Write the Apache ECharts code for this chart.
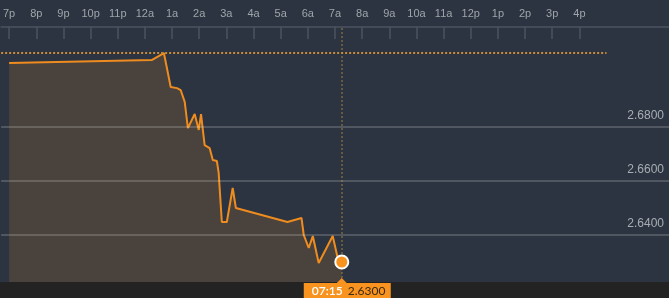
<!DOCTYPE html>
<html>
<head>
<meta charset="utf-8">
<script src="https://cdn.jsdelivr.net/npm/echarts@6/dist/echarts.min.js"></script>
<style>
html,body{margin:0;padding:0;background:#2b3440;}
#c{width:669px;height:298px;}
</style>
</head>
<body>
<div id="c"></div>
<script>
// ---- data ----
var hourLabels = ['7p','8p','9p','10p','11p','12a','1a','2a','3a','4a','5a','6a','7a','8a','9a','10a','11a','12p','1p','2p','3p','4p'];
var times = ['19:00','00:15','00:42','00:57','01:11','01:19','01:28','01:35','01:50','01:59','02:04','02:12','02:23','02:30','02:39','02:43','02:50','03:01','03:14','03:21','05:15','05:46','05:51','06:02','06:11','06:24','06:55','07:06','07:15'];
var prices = [2.7037,2.7048,2.7074,2.6948,2.6944,2.6937,2.6893,2.6796,2.6848,2.6789,2.6848,2.6733,2.6722,2.6678,2.6674,2.6630,2.6448,2.6448,2.6574,2.6500,2.6448,2.6463,2.6400,2.6352,2.6396,2.6296,2.6396,2.6315,2.6300];
var yTicks = [2.64, 2.66, 2.68];
var prevClose = 2.7074;
var prevCloseEnd = '17:00';
var lastTimeLabel = '07:15';
var lastPriceLabel = '2.6300';

// hours since 7p
function toHours(s){
  var p = s.split(':'); var h = +p[0] + (+p[1])/60;
  var d = h - 19; if (d < 0) d += 24; return d;
}
var xMin = -0.294, xMax = 24.30;
var yMin = 2.62259, yMax = 2.71704;

var seriesData = times.map(function(t,i){ return [toHours(t), prices[i]]; });
var lastPt = seriesData[seriesData.length-1];

var markLines = yTicks.map(function(v){
  return [{coord:[xMin, v], lineStyle:{color:'rgba(255,255,255,0.24)', width:1.5, type:'solid'}}, {coord:[xMax, v]}];
});
markLines.push([{coord:[xMin, prevClose], lineStyle:{color:'#c98b3b', width:2, type:[2,2]}}, {coord:[toHours(prevCloseEnd), prevClose]}]);
markLines.push({xAxis:lastPt[0], lineStyle:{color:'rgba(190,150,60,0.55)', width:1.5, type:[2,2]}});

var chart = echarts.init(document.getElementById('c'), null, {renderer:'canvas'});
chart.setOption({
  backgroundColor:'#2b3440',
  animation:false,
  grid:{left:0, right:0, top:27, bottom:16},
  xAxis:{
    type:'value', position:'top', min:xMin, max:xMax,
    axisLine:{show:true, lineStyle:{color:'#4b535d', width:1.5}},
    axisTick:{show:true, inside:true, length:12, lineStyle:{color:'#4b535d', width:1.5},
      customValues: hourLabels.map(function(_,i){return i;})},
    axisLabel:{show:true, color:'#a0a5ab', fontSize:11, fontFamily:'Liberation Sans, Arial, sans-serif', margin:8,
      customValues: hourLabels.map(function(_,i){return i;}),
      formatter:function(v){ var i = Math.round(v); return hourLabels[i] || ''; }},
    splitLine:{show:false}
  },
  yAxis:{
    type:'value', position:'right', min:yMin, max:yMax, scale:true,
    axisLine:{show:false}, axisTick:{show:false}, splitLine:{show:false},
    axisLabel:{show:true, inside:true, color:'#a8adb3', fontSize:12, fontFamily:'Liberation Sans, Arial, sans-serif',
      margin:5, verticalAlign:'bottom', padding:[0,0,5,0],
      customValues: yTicks,
      formatter:function(v){ return v.toFixed(4); }}
  },
  series:[{
    type:'line', data:seriesData, symbol:'none', smooth:false,
    lineStyle:{color:'#ef8c1f', width:2},
    areaStyle:{color:'#4a423c', opacity:1},
    markLine:{silent:true, symbol:'none', label:{show:false}, data:markLines},
    markPoint:{silent:true, label:{show:false}, data:[{coord:lastPt, symbol:'circle', symbolSize:13,
      itemStyle:{color:'#f7931e', borderColor:'#ffffff', borderWidth:2}}]}
  }]
});

var px = chart.convertToPixel({gridIndex:0}, lastPt);
var bx = px[0];
chart.setOption({graphic:[
  {type:'rect', id:'band', left:0, bottom:0, shape:{width:669, height:16}, style:{fill:'#232323'}, z:10},
  {type:'polygon', id:'tri', shape:{points:[[bx-5,283],[bx,278],[bx+5,283]]}, style:{fill:'#f7931e'}, z:20},
  {type:'rect', id:'box', shape:{x:bx-38, y:283, width:87, height:15}, style:{fill:'#f7931e'}, z:20},
  {type:'text', id:'t1', x:bx-30, y:291, style:{text:lastTimeLabel, fill:'#ffffff', font:'600 12px Lato, sans-serif', verticalAlign:'middle', textAlign:'left'}, z:30},
  {type:'text', id:'t2', x:bx+6, y:291, style:{text:lastPriceLabel, fill:'#3a2a14', font:'12px Lato, sans-serif', verticalAlign:'middle', textAlign:'left'}, z:30}
]});
</script>
</body>
</html>
